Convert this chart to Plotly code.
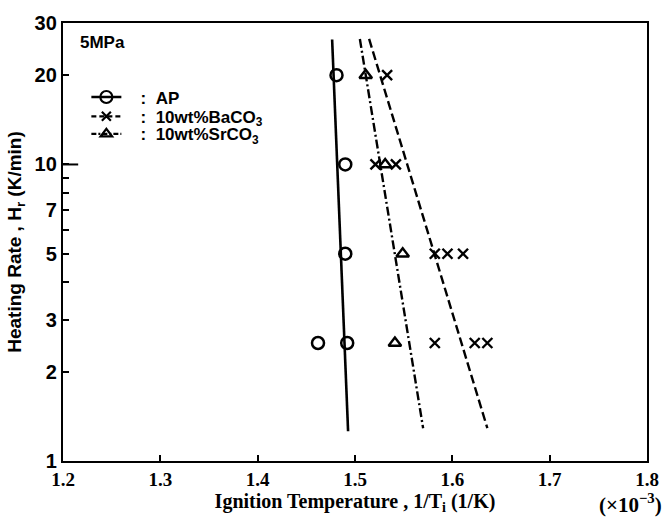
import plotly.graph_objects as go

# ---- data ----
ap_invT = [1.481, 1.490, 1.490, 1.462, 1.492]
ap_rate = [20, 10, 5, 2.5, 2.5]

ba_invT = [1.533, 1.521, 1.542, 1.582, 1.595, 1.611, 1.582, 1.623, 1.636]
ba_rate = [20, 10, 10, 5, 5, 5, 2.5, 2.5, 2.5]

sr_invT = [1.511, 1.531, 1.549, 1.541]
sr_rate = [20, 10, 5, 2.5]

# fitted lines (end points)
ap_fit_x = [1.4765, 1.4929]
ap_fit_y = [26.4, 1.26]
ba_fit_x = [1.5145, 1.636]
ba_fit_y = [26.5, 1.29]
sr_fit_x = [1.505, 1.570]
sr_fit_y = [26.5, 1.29]

x_ticks = [1.2, 1.3, 1.4, 1.5, 1.6, 1.7, 1.8]
y_ticks = [1, 2, 3, 5, 7, 10, 20, 30]
y_minor = [4, 6, 8, 9]

NB = "\u00a0"
legend_names = [NB * 3 + ":" + NB * 2 + "AP",
                NB * 3 + ":" + NB * 2 + "10wt%BaCO<sub>3</sub>",
                NB * 3 + ":" + NB * 2 + "10wt%SrCO<sub>3</sub>"]

BLACK = "black"
ba_dash = "9px,4px"
sr_dash = "9px,3px,2px,3px"

fig = go.Figure()

# fitted lines
fig.add_trace(go.Scatter(x=ap_fit_x, y=ap_fit_y, mode="lines",
                         line=dict(color=BLACK, width=2.6), showlegend=False))
fig.add_trace(go.Scatter(x=ba_fit_x, y=ba_fit_y, mode="lines",
                         line=dict(color=BLACK, width=2.4, dash=ba_dash), showlegend=False))
fig.add_trace(go.Scatter(x=sr_fit_x, y=sr_fit_y, mode="lines",
                         line=dict(color=BLACK, width=2.4, dash=sr_dash), showlegend=False))

# data markers
fig.add_trace(go.Scatter(x=ap_invT, y=ap_rate, mode="markers", showlegend=False,
                         marker=dict(symbol="circle-open", size=12, color=BLACK,
                                     line=dict(width=2.5, color=BLACK))))
fig.add_trace(go.Scatter(x=ba_invT, y=ba_rate, mode="markers", showlegend=False,
                         marker=dict(symbol="x-thin-open", size=10, color=BLACK,
                                     line=dict(width=2.4, color=BLACK))))
fig.add_trace(go.Scatter(x=sr_invT, y=sr_rate, mode="markers", showlegend=False,
                         marker=dict(symbol="triangle-up-open", size=11, color=BLACK,
                                     line=dict(width=2.4, color=BLACK))))

# legend entries, one legend per row
leg_styles = [
    (dict(color=BLACK, width=2.4), dict(symbol="circle-open", size=12, color=BLACK, line=dict(width=2.2, color=BLACK))),
    (dict(color=BLACK, width=2.2, dash="5px,3px"), dict(symbol="x-thin-open", size=9, color=BLACK, line=dict(width=2.2, color=BLACK))),
    (dict(color=BLACK, width=2.2, dash="5px,2px,2px,2px"), dict(symbol="triangle-up-open", size=10, color=BLACK, line=dict(width=2.2, color=BLACK))),
]
legend_ids = ["legend", "legend2", "legend3"]
legend_rows = [0.830, 0.786, 0.746]
for name, (ln, mk), lid in zip(legend_names, leg_styles, legend_ids):
    fig.add_trace(go.Scatter(x=[None], y=[None], mode="lines+markers", name=name,
                             line=ln, marker=mk, showlegend=True, legend=lid))

fig.add_shape(type="line", xref="paper", yref="y", x0=0, x1=0.026, y0=10, y1=10,
              line=dict(color=BLACK, width=2))

fig.add_annotation(text="5MPa", xref="paper", yref="paper", x=0.026, y=0.955,
                   xanchor="left", yanchor="middle", showarrow=False,
                   font=dict(family="Liberation Sans", size=17, color=BLACK, weight="bold"))
fig.add_annotation(text="(×10<sup>−3</sup>)", xref="paper", yref="paper", x=0.972, y=-0.097,
                   xanchor="center", yanchor="middle", showarrow=False,
                   font=dict(family="Liberation Serif", size=21, color=BLACK, weight="bold"))

leg_common = dict(xanchor="left", yanchor="middle", bgcolor="rgba(0,0,0,0)", borderwidth=0,
                  font=dict(family="Liberation Sans", size=17, color=BLACK, weight="bold"))

fig.update_layout(
    width=671, height=519,
    margin=dict(l=63, r=24, t=12, b=55),
    paper_bgcolor="white", plot_bgcolor="white",
    showlegend=True,
    legend=dict(x=0.04, y=legend_rows[0], **leg_common),
    legend2=dict(x=0.04, y=legend_rows[1], **leg_common),
    legend3=dict(x=0.04, y=legend_rows[2], **leg_common),
    xaxis=dict(range=[1.2, 1.8], tickvals=x_ticks, ticktext=[f"{v:.1f}" for v in x_ticks],
               ticks="inside", ticklen=6, tickwidth=1.5, tickcolor=BLACK,
               showline=True, linecolor=BLACK, linewidth=2.4, mirror=True,
               showgrid=False, zeroline=False,
               tickfont=dict(family="Liberation Serif", size=19, color=BLACK, weight="bold"),
               title=dict(text="Ignition Temperature , 1/T<sub>i</sub> (1/K)", standoff=3,
                          font=dict(family="Liberation Serif", size=20, color=BLACK, weight="bold"))),
    yaxis=dict(type="log", range=[0, 1.4771], tickvals=y_ticks,
               ticktext=[str(v) for v in y_ticks],
               ticks="inside", ticklen=6, tickwidth=1.5, tickcolor=BLACK,
               minor=dict(tickvals=y_minor, ticks="inside", ticklen=6, tickwidth=1.5, tickcolor=BLACK, showgrid=False),
               showline=True, linecolor=BLACK, linewidth=2.4, mirror=True,
               showgrid=False, zeroline=False,
               tickfont=dict(family="Liberation Sans", size=20, color=BLACK, weight="bold"),
               title=dict(text="Heating Rate , H<sub>r</sub> (K/min)", standoff=8,
                          font=dict(family="Liberation Sans", size=19, color=BLACK, weight="bold"))),
)

fig.write_html("out.html")
